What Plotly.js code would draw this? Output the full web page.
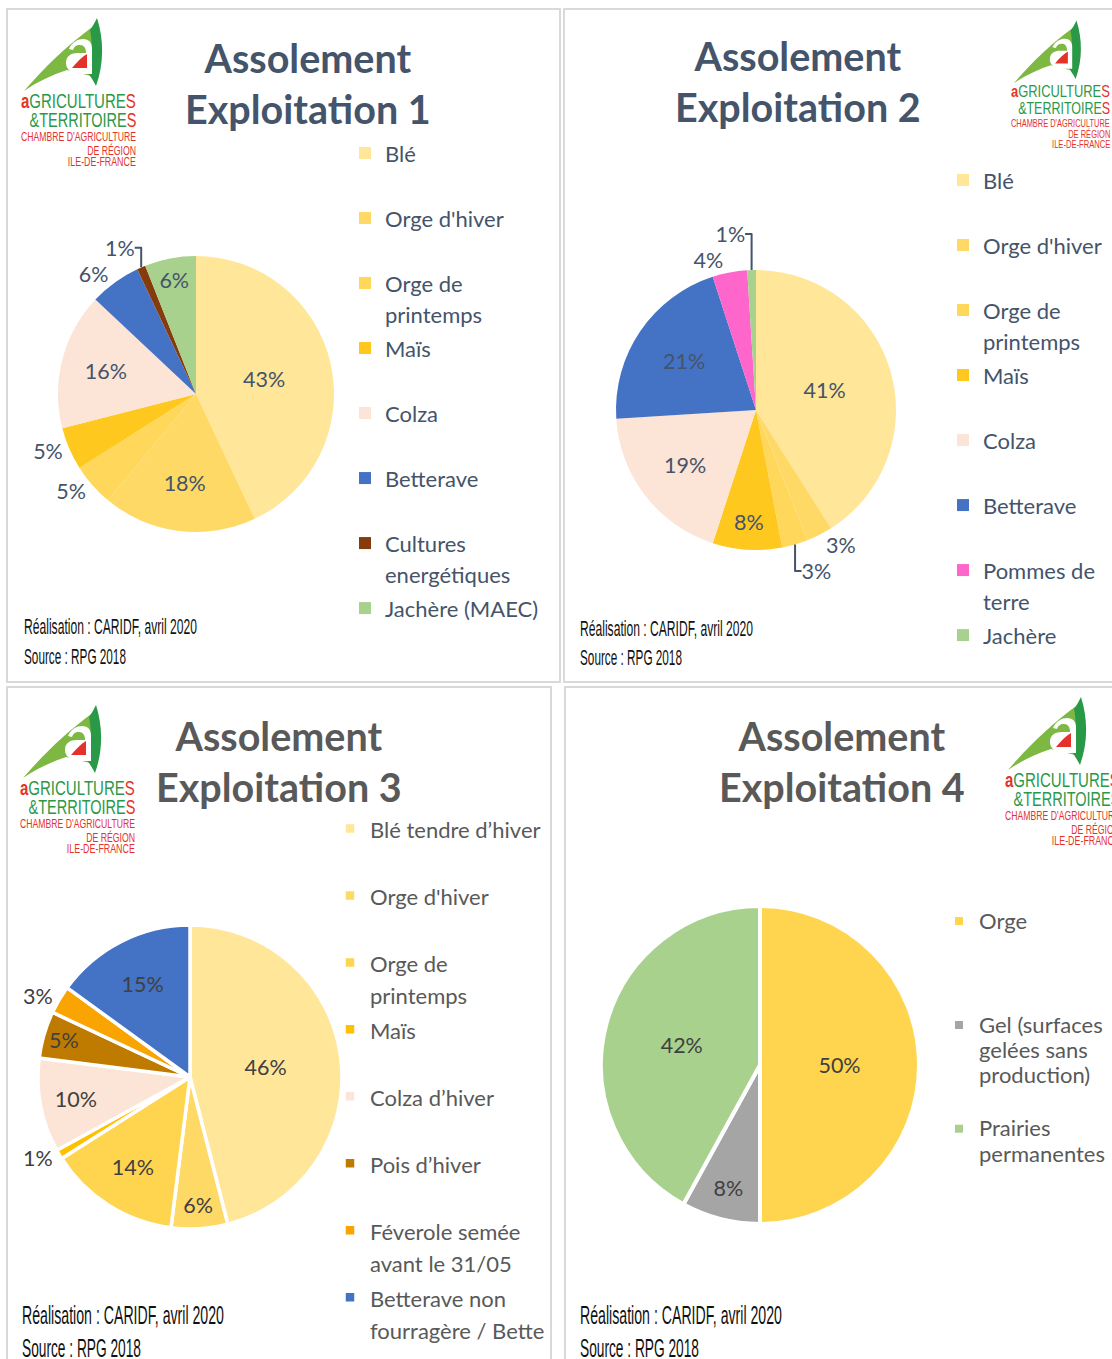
<!DOCTYPE html>
<html><head><meta charset="utf-8">
<script src="https://cdn.plot.ly/plotly-3.0.1.min.js"></script>
<style>html,body{margin:0;padding:0;background:#fff;overflow:hidden}</style>
</head><body>
<div id="chart" style="width:1112px;height:1359px"></div>
<script>
// ---------------- DATA ----------------
const titles = ["Assolement<br>Exploitation 1","Assolement<br>Exploitation 2","Assolement<br>Exploitation 3","Assolement<br>Exploitation 4"];
const footRealisation = "Réalisation : CARIDF, avril 2020";
const footSource = "Source : RPG 2018";

const categories1 = ["Blé","Orge d'hiver","Orge de\nprintemps","Maïs","Colza","Betterave","Cultures\nenergétiques","Jachère (MAEC)"];
const values1 = [43,18,5,5,16,6,1,6];

const categories2 = ["Blé","Orge d'hiver","Orge de\nprintemps","Maïs","Colza","Betterave","Pommes de\nterre","Jachère"];
const values2 = [41,3,3,8,19,21,4,1];

const categories3 = ["Blé tendre d’hiver","Orge d'hiver","Orge de\nprintemps","Maïs","Colza d’hiver","Pois d’hiver","Féverole semée\navant le 31/05","Betterave non\nfourragère / Bette"];
const values3 = [46,6,14,1,10,5,3,15];

const categories4 = ["Orge","Gel (surfaces\ngelées sans\nproduction)","Prairies\npermanentes"];
const values4 = [50,8,42];

// ---------------- STYLE ----------------
const W = 1112, H = 1359;
const FONT = 'Lato, "Open Sans", sans-serif';
const NARROW = '"Liberation Sans Narrow", "Arial Narrow", "Liberation Sans", sans-serif';
const SLATE = '#44546A', GREY = '#595959', DARK = '#404040';

const colors1 = ['#FFE699','#FFD966','#FFD75A','#FFC81E','#FCE4D6','#4472C4','#843C0C','#A9D18E'];
const colors2 = ['#FFE699','#FFD966','#FFD75A','#FFC81E','#FCE4D6','#4472C4','#FF66CC','#A9D18E'];
const colors3 = ['#FFE699','#FFD966','#FFD54F','#FFC000','#FCE4D6','#BF7B00','#F9A400','#4472C4'];
const colors4 = ['#FFD54F','#A5A5A5','#A9D18E'];

const pos1 = ['inside','inside','outside','outside','inside','outside','outside','inside'];
const pos2 = ['inside','outside','outside','inside','inside','inside','outside','outside'];
const pos3 = ['inside','inside','inside','outside','inside','inside','outside','inside'];
const pos4 = ['inside','inside','inside'];

// legend label: wrapped lines, padded to n lines so every entry has the same height;
// a panel-specific (visually identical) font size keeps labels of different pies apart in the legends
function legendLabel(cat, n, panel){
  const size = (22 + panel * 0.001).toFixed(3);
  const lines = cat.split('\n');
  while(lines.length < n) lines.push('\u00a0');
  return lines.map(l => '<span style="font-size:' + size + 'px">' + l + '</span>').join('<br>');
}

function pie(cats, vals, cols, pos, cx, cy, r, legendId, txtColor, lineW, nLines, panel){
  return {
    type:'pie', labels: cats.map(c => legendLabel(c, nLines, panel)), values: vals,
    sort:false, direction:'clockwise', rotation:0,
    marker:{colors:cols, line:{color:'#ffffff', width:lineW}},
    texttemplate:'%{value}%', textposition:pos, insidetextorientation:'horizontal',
    textfont:{family:FONT, size:21.5, color:txtColor},
    domain:{x:[(cx-r)/W,(cx+r)/W], y:[1-(cy+r)/H, 1-(cy-r)/H]},
    legend:legendId, hoverinfo:'label+percent'
  };
}

const data = [
  pie(categories1, values1, colors1, pos1, 196, 394, 138, 'legend',  SLATE, 0, 2, 1),
  pie(categories2, values2, colors2, pos2, 756, 410, 140, 'legend2', SLATE, 0, 2, 2),
  pie(categories3, values3, colors3, pos3, 190, 1077, 152, 'legend3', DARK, 3.5, 2, 3),
  pie(categories4, values4, colors4, pos4, 760, 1065, 159, 'legend4', DARK, 4, 4, 4)
];

function legendBox(left, top, size, color){
  return {x:left/W, y:1-top/H, xanchor:'left', yanchor:'top', xref:'paper', yref:'paper',
    bgcolor:'rgba(0,0,0,0)', borderwidth:0, valign:'top',
    font:{family:FONT, size:size, color:color}};
}

// ---------------- ANNOTATIONS ----------------
const ann = [], condense = [];
function addAnn(o, width, anchor){
  ann.push(Object.assign({xref:'paper', yref:'paper', showarrow:false}, o));
  if(width) condense.push({i:ann.length-1, w:width, a:anchor});
}
const titlePos = [[308,83,SLATE],[798,81,SLATE],[279,761,GREY],[842,761,GREY]];
titlePos.forEach((p,k) => addAnn({text:titles[k], x:p[0]/W, y:1-p[1]/H, xanchor:'center', yanchor:'middle',
  font:{family:FONT, size:39.5, color:p[2], weight:700}}));

const footPos = [[22,626,656,22,173,102],[578,628,657,22,173,102],[20,1315,1348,25,202,119],[578,1315,1348,25,202,119]];
footPos.forEach(p => {
  addAnn({text:footRealisation, x:p[0]/W, y:1-p[1]/H, xanchor:'left', yanchor:'middle',
    font:{family:NARROW, size:p[3], color:'#111111'}}, p[4], 'left');
  addAnn({text:footSource, x:p[0]/W, y:1-p[2]/H, xanchor:'left', yanchor:'middle',
    font:{family:NARROW, size:p[3], color:'#111111'}}, p[5], 'left');
});

// ---------------- LOGOS (decoration) ----------------
const LG = '#7DB843', DG = '#2A9947', RED = '#E4322B';
const shapes = [];
const logoSpots = [[22,15,1],[1012,18,0.86],[21,702,1],[1006,694,1]];
function tp(path, ox, oy, s){
  return path.replace(/(-?\d+\.?\d*),(-?\d+\.?\d*)/g, (m, a, b) => {
    const X = ox + s*(parseFloat(a)-22), Y = oy + s*(parseFloat(b)-15);
    return (X/W).toFixed(5) + ',' + (1-Y/H).toFixed(5);
  });
}
const logoPaths = [
  ['M24,91 C44,68 66,46 95,25 L95,77 L67,70 C52,75 37,82 24,91 Z', LG],
  ['M97,18 C104,40 104,64 96,86 C93,80 90,76 88,73 C92,60 93,44 90,30 C93,26 95,22 97,18 Z', DG],
  ['M69,49 C72,42 78,39 83,39 C89,39 92,43 92,48 L92,74 L80,74 C71,74 66,69 66,63 C66,56 71,53 78,53 L86,53 C86,48 84,45 80,45 C76,45 74,47 73,50 Z', '#FFFFFF'],
  ['M72,68 C77,62 82,57 87,54 L87,68 Z', RED]
];
logoSpots.forEach(sp => {
  logoPaths.forEach(lp => shapes.push({type:'path', xref:'paper', yref:'paper', path:tp(lp[0], sp[0], sp[1], sp[2]),
    fillcolor:lp[1], line:{width:0}, layer:'above'}));
  const X = x => (sp[0] + sp[2]*(x-22))/W, Y = y => 1 - (sp[1] + sp[2]*(y-15))/H, s = sp[2];
  addAnn({text:'<span style="color:'+RED+'"><b>a</b></span>GRICULTURE<span style="color:'+RED+'">S</span>',
    x:X(138), y:Y(101), xanchor:'right', yanchor:'middle', font:{family:NARROW, size:19.6*s, color:DG}}, 115*s, 'right');
  addAnn({text:'&amp;TERRITOIRE<span style="color:'+RED+'">S</span>',
    x:X(138), y:Y(120), xanchor:'right', yanchor:'middle', font:{family:NARROW, size:19.6*s, color:DG}}, 107*s, 'right');
  addAnn({text:"CHAMBRE D'AGRICULTURE", x:X(138), y:Y(137), xanchor:'right', yanchor:'middle',
    font:{family:NARROW, size:12.5*s, color:RED}}, 115*s, 'right');
  addAnn({text:"DE RÉGION", x:X(138), y:Y(150), xanchor:'right', yanchor:'middle',
    font:{family:NARROW, size:12.5*s, color:RED}}, 49*s, 'right');
  addAnn({text:"ILE-DE-FRANCE", x:X(138), y:Y(162), xanchor:'right', yanchor:'middle',
    font:{family:NARROW, size:12.5*s, color:RED}}, 68*s, 'right');
});

// panel frames
[[7,9,560,682],[564,9,1116,682],[7,687,551,1365],[565,687,1116,1365]].forEach(b => shapes.push({
  type:'rect', xref:'paper', yref:'paper', x0:b[0]/W, x1:b[2]/W, y0:1-b[3]/H, y1:1-b[1]/H,
  line:{color:'#D9D9D9', width:2}, fillcolor:'rgba(0,0,0,0)', layer:'below'}));

const layout = {
  width:W, height:H, margin:{l:0, r:0, t:0, b:0, autoexpand:false},
  paper_bgcolor:'#ffffff', plot_bgcolor:'#ffffff',
  legend:  legendBox(345, 131, 23.85, SLATE),
  legend2: legendBox(943, 158, 23.85, SLATE),
  legend3: legendBox(330, 806, 24.6, GREY),
  legend4: legendBox(939, 902, 19.4, GREY),
  annotations: ann, shapes: shapes
};

Plotly.newPlot('chart', data, layout, {staticPlot:true, displayModeBar:false}).then(gd => {
  try {
    const groups = gd.querySelectorAll('g.annotation');
    condense.forEach(c => {
      let g = null;
      groups.forEach(el => { if(+el.getAttribute('data-index') === c.i) g = el; });
      if(!g) return;
      const t = g.querySelector('text.annotation-text');
      if(!t) return;
      const bb = t.getBBox();
      if(!bb.width) return;
      const sx = c.w / bb.width;
      const ax = c.a === 'right' ? bb.x + bb.width : bb.x;
      t.setAttribute('transform', 'translate(' + ax + ',0) scale(' + sx + ',1) translate(' + (-ax) + ',0)');
    });
  } catch(e) {}
});
</script>
</body></html>
